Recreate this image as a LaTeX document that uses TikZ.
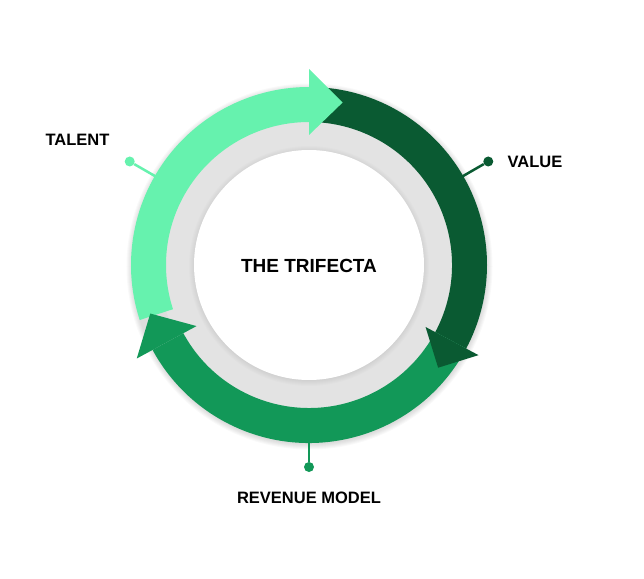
\documentclass[tikz,border=0pt]{standalone}
\usepackage{fontspec}
\setmainfont{Liberation Sans}
\usetikzlibrary{positioning}
\definecolor{talentgreen}{HTML}{66F2AE}
\definecolor{valuegreen}{HTML}{0A5A32}
\definecolor{revenuegreen}{HTML}{129858}
\definecolor{ringgray}{HTML}{E3E3E3}

\begin{document}
\begin{tikzpicture}
[x=1pt,y=1pt,
pindot/.style={shape=circle,inner sep=0pt,minimum size=10pt},
pinline/.style={line width=2.5pt},
caption/.style={font=\fontsize{16.5}{20}\selectfont\bfseries,inner sep=0pt},
title/.style={font=\fontsize{19}{23}\selectfont\bfseries,inner sep=0pt}]

\useasboundingbox (-309,-313) rectangle (335,265);

% soft shadows and the gray ring
\foreach \r in {1,...,6}
  \fill[black,opacity=0.022] (0.5,-1.5) circle (177+\r);
\fill[ringgray] (0,0) circle (150);
\foreach \r in {1,...,8}
  \fill[black,opacity=0.01] (0,-1) circle (112+\r);
\fill[white] (0,0) circle (115);

% pins
\coordinate (tend) at (150:170);
\node (tdot) [pindot,fill=talentgreen] at (150:207) {};
\draw[pinline,talentgreen] (tdot) -- (tend);
\coordinate (vend) at (30:170);
\node (vdot) [pindot,fill=valuegreen] at (30:207) {};
\draw[pinline,valuegreen] (vdot) -- (vend);
\coordinate (rend) at (-90:170);
\node (rdot) [pindot,fill=revenuegreen] at (-90:202) {};
\draw[pinline,revenuegreen] (rdot) -- (rend);

% bands
\fill[talentgreen] (198:178) arc[start angle=198,end angle=90,radius=178]
  -- (90:143) arc[start angle=90,end angle=198,radius=143] -- cycle;
\fill[valuegreen] (90:178) arc[start angle=90,end angle=-28,radius=178]
  -- (-28:143) arc[start angle=-28,end angle=90,radius=143] -- cycle;
\fill[revenuegreen] (-28:178) arc[start angle=-28,end angle=-151.5,radius=178]
  -- (-151.5:143) arc[start angle=-151.5,end angle=-28,radius=143] -- cycle;

% heads
\fill[talentgreen] (90:196) -- (78.3:166) -- (90:130) -- cycle;
\fill[valuegreen] (-28:192) -- (-38.5:165) -- (-28:132) -- cycle;
\fill[revenuegreen] (-151.5:196) -- (-163:166) -- (-151.5:128) -- cycle;

% texts
\node (trifecta) [title] at (0,-1) {THE TRIFECTA};
\node (talent) [caption] at (-231.5,125.5) {TALENT};
\node (value) [caption,right=14pt of vdot] {VALUE};
\node (revenue) [caption,below=20pt of rdot] {REVENUE MODEL};

\end{tikzpicture}
\end{document}
